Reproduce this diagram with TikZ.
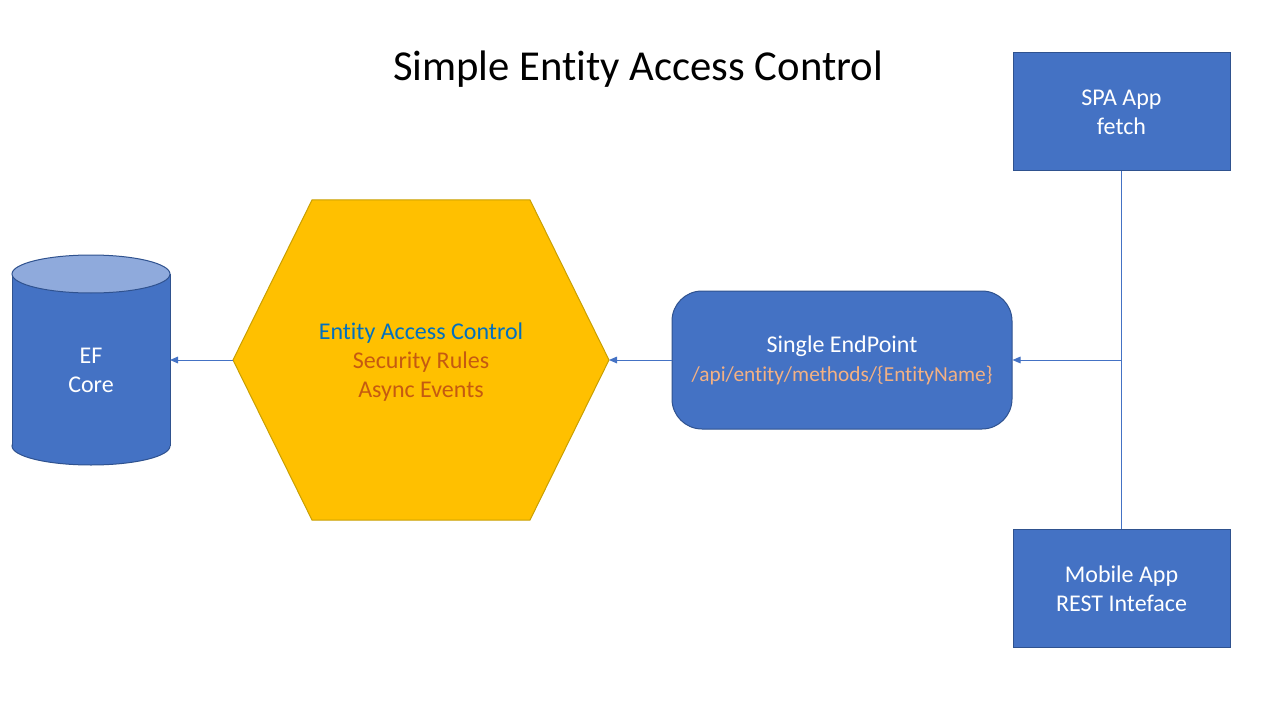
\documentclass[tikz,border=0pt]{standalone}
\usepackage{fontspec}
\setmainfont{Carlito}[Ligatures=NoCommon]
\usetikzlibrary{arrows.meta,positioning}
\definecolor{boxblue}{HTML}{4472C4}
\definecolor{boxline}{HTML}{2F528F}
\definecolor{dbtop}{HTML}{8FAADC}
\definecolor{hexfill}{HTML}{FFC000}
\definecolor{hexline}{HTML}{C9A000}
\definecolor{ctrlblue}{HTML}{0070C0}
\definecolor{ruleorange}{HTML}{C55A11}
\definecolor{pathorange}{HTML}{F4B183}
\newcommand{\bodyfont}{\fontsize{18}{21.6}\selectfont}
\newcommand{\pathfont}{\fontsize{16}{21.6}\selectfont}
\tikzset{
    appbox/.style={draw=boxline, fill=boxblue, text=white, line width=0.75pt,
        minimum width=162.75pt, minimum height=88.5pt, align=center, font=\bodyfont},
    link/.style={draw=boxblue, line width=0.75pt, -{Triangle[length=6pt,width=5pt]}},
}
\begin{document}
\begin{tikzpicture}[x=0.75pt, y=-0.75pt]
    \useasboundingbox (0,0) rectangle (1280,720);
    % title
    \node[font=\fontsize{32}{38}\selectfont] (title) at (638,69) {Simple Entity Access Control};
    % clients
    \node[appbox] (spa) at (1121.5,112) {SPA App\\fetch};
    \node[appbox] (mob) at (1121.5,588.5) {Mobile App\\REST Inteface};
    % endpoint
    \node[appbox, rounded corners=22.5pt, minimum width=255pt, minimum height=103.5pt]
        (ep) at (842,360) {Single EndPoint\\\pathfont\textcolor{pathorange}{/api/entity/methods/\{EntityName\}}};
    % hexagon
    \coordinate (hexW) at (233,360);
    \coordinate (hexE) at (609,360);
    \filldraw[fill=hexfill, draw=hexline, line width=0.75pt]
        (hexW) -- (312,200) -- (530,200) -- (hexE) -- (530,520) -- (312,520) -- cycle;
    \node[align=center, font=\bodyfont] (eac) at (421,362)
        {\textcolor{ctrlblue}{Entity Access Control}\\\textcolor{ruleorange}{Security Rules}\\\textcolor{ruleorange}{Async Events}};
    % database
    \filldraw[fill=boxblue, draw=boxline, line width=0.75pt] (91,446) ellipse [x radius=79, y radius=19];
    \fill[boxblue] (12,274) rectangle (170,446);
    \draw[boxline, line width=0.75pt] (12,274) -- (12,446) (170,274) -- (170,446);
    \filldraw[fill=dbtop, draw=boxline, line width=0.75pt] (91,274) ellipse [x radius=79, y radius=19];
    \node[align=center, text=white, font=\bodyfont] (db) at (91,370) {EF\\Core};
    \coordinate (dbE) at (170,360);
    % connectors
    \coordinate (join) at (spa.south |- ep.east);
    \draw[boxblue, line width=0.75pt] (spa.south) -- (mob.north);
    \draw[link] (join) -- (ep.east);
    \draw[link] (ep.west) -- (hexE);
    \draw[link] (hexW) -- (dbE);
\end{tikzpicture}
\end{document}
